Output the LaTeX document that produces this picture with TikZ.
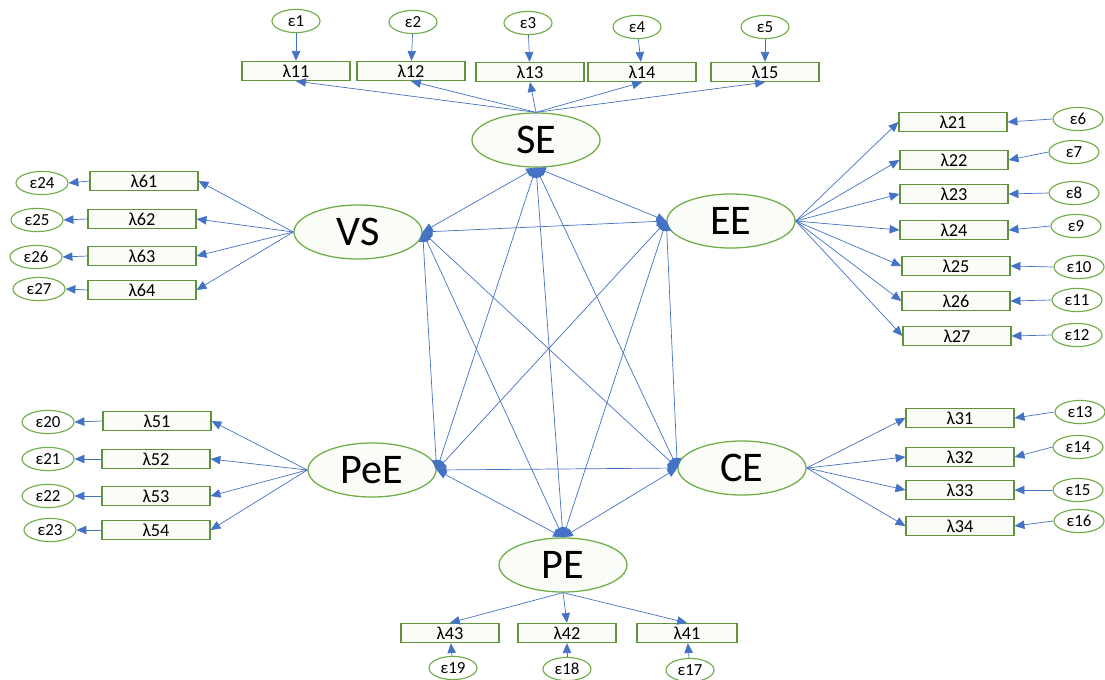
\documentclass[tikz,border=0pt]{standalone}
\usepackage{fontspec}
\setmainfont{Carlito}
\usetikzlibrary{positioning,shapes,arrows.meta}
\definecolor{semline}{HTML}{4472C4}
\definecolor{semgreen}{HTML}{70AD47}
\definecolor{semfill}{HTML}{FAFDF7}

\begin{document}
\begin{tikzpicture}[x=0.025cm,y=-0.025cm,
    latent/.style={ellipse, draw=semgreen, fill=semfill, line width=0.9pt, minimum width=3.2cm, minimum height=1.35cm, inner sep=0pt, font=\fontsize{30}{34}\selectfont},
    item/.style={rectangle, draw=semgreen!85!black, fill=semfill, line width=0.8pt, minimum width=2.7cm, minimum height=0.48cm, inner sep=0pt, font=\fontsize{13}{15}\selectfont},
    err/.style={ellipse, draw=semgreen, fill=white, line width=0.8pt, minimum width=1.2cm, minimum height=0.58cm, inner sep=0pt, font=\fontsize{12}{14}\selectfont},
    load/.style={-{Triangle[length=7pt,width=6pt]}, semline, line width=0.5pt},
    cov/.style={{Triangle[length=7pt,width=6pt]}-{Triangle[length=7pt,width=6pt]}, semline, line width=0.5pt}]
      \useasboundingbox (0,0) rectangle (1105,679);

      \node[latent] (SE) at (536,140) {SE};
      \node[latent] (VS) at (358,232) {VS};
      \node[latent] (EE) at (731,221) {EE};
      \node[latent] (PeE) at (372,470) {PeE};
      \node[latent] (CE) at (742,468) {CE};
      \node[latent] (PE) at (563,565) {PE};

      \node[item] (l11) at (296,71) {λ11};
      \node[item] (l12) at (411,71) {λ12};
      \node[item] (l13) at (530,72) {λ13};
      \node[item] (l14) at (642,72) {λ14};
      \node[item] (l15) at (765,72) {λ15};
      \node[err] (e1) at (296,21) {ε1};
      \node[err] (e2) at (413,22) {ε2};
      \node[err] (e3) at (528,23) {ε3};
      \node[err] (e4) at (637,27) {ε4};
      \node[err] (e5) at (765,27) {ε5};

      \node[item] (l21) at (953,122) {λ21};
      \node[item] (l22) at (954,160) {λ22};
      \node[item] (l23) at (954,194) {λ23};
      \node[item] (l24) at (954,230) {λ24};
      \node[item] (l25) at (956,266) {λ25};
      \node[item] (l26) at (956,301) {λ26};
      \node[item] (l27) at (957,336) {λ27};
      \node[err, minimum width=1.25cm] (e6) at (1078,119) {ε6};
      \node[err, minimum width=1.25cm] (e7) at (1074,152) {ε7};
      \node[err, minimum width=1.25cm] (e8) at (1074,193) {ε8};
      \node[err, minimum width=1.25cm] (e9) at (1076,226) {ε9};
      \node[err, minimum width=1.25cm] (e10) at (1079,267) {ε10};
      \node[err, minimum width=1.25cm] (e11) at (1077,300) {ε11};
      \node[err, minimum width=1.25cm] (e12) at (1077,335) {ε12};

      \node[item] (l31) at (960,418) {λ31};
      \node[item] (l32) at (960,457) {λ32};
      \node[item] (l33) at (960,490) {λ33};
      \node[item] (l34) at (960,526) {λ34};
      \node[err, minimum width=1.25cm] (e13) at (1080,412) {ε13};
      \node[err, minimum width=1.25cm] (e14) at (1078,447) {ε14};
      \node[err, minimum width=1.25cm] (e15) at (1078,490) {ε15};
      \node[err, minimum width=1.25cm] (e16) at (1079,521) {ε16};

      \node[item, minimum width=2.45cm] (l43) at (450,633) {λ43};
      \node[item, minimum width=2.45cm] (l42) at (567,633) {λ42};
      \node[item, minimum width=2.5cm] (l41) at (687,633) {λ41};
      \node[err] (e19) at (453,668) {ε19};
      \node[err] (e18) at (567,669) {ε18};
      \node[err] (e17) at (690,670) {ε17};

      \node[item] (l51) at (157,421) {λ51};
      \node[item] (l52) at (156,459) {λ52};
      \node[item] (l53) at (156,496) {λ53};
      \node[item] (l54) at (156,530) {λ54};
      \node[err, minimum width=1.3cm] (e20) at (48,422) {ε20};
      \node[err, minimum width=1.3cm] (e21) at (48,459) {ε21};
      \node[err, minimum width=1.3cm] (e22) at (48,496) {ε22};
      \node[err, minimum width=1.3cm] (e23) at (50,530) {ε23};

      \node[item] (l61) at (144,181) {λ61};
      \node[item] (l62) at (142,219) {λ62};
      \node[item] (l63) at (142,256) {λ63};
      \node[item] (l64) at (142,290) {λ64};
      \node[err, minimum width=1.3cm] (e24) at (42,183) {ε24};
      \node[err, minimum width=1.3cm] (e25) at (37,220) {ε25};
      \node[err, minimum width=1.3cm] (e26) at (36,257) {ε26};
      \node[err, minimum width=1.3cm] (e27) at (39,289) {ε27};

      \foreach \i in {11,12,13,14,15} \draw[load] (SE.north) -- (l\i.south);
      \foreach \i in {21,22,23,24,25,26,27} \draw[load] (EE.east) -- (l\i.west);
      \foreach \i in {31,32,33,34} \draw[load] (CE.east) -- (l\i.west);
      \foreach \i in {41,42,43} \draw[load] (PE.south) -- (l\i.north);
      \foreach \i in {51,52,53,54} \draw[load] (PeE.west) -- (l\i.east);
      \foreach \i in {61,62,63,64} \draw[load] (VS.west) -- (l\i.east);

      \foreach \e/\i in {1/11,2/12,3/13,4/14,5/15} \draw[load] (e\e) -- (l\i);
      \foreach \e/\i in {6/21,7/22,8/23,9/24,10/25,11/26,12/27,13/31,14/32,15/33,16/34} \draw[load] (e\e.west) -- (l\i.east);
      \foreach \e/\i in {17/41,18/42,19/43} \draw[load] (e\e) -- (l\i);
      \foreach \e/\i in {20/51,21/52,22/53,23/54,24/61,25/62,26/63,27/64} \draw[load] (l\i.west) -- (e\e.east);

      \draw[cov] (SE.south) -- (VS.east);
      \draw[cov] (SE.south) -- (EE.west);
      \draw[cov] (SE.south) -- (PeE.east);
      \draw[cov] (SE.south) -- (PE.north);
      \draw[cov] (SE.south) -- (CE.west);
      \draw[cov] (VS.east) -- (EE.west);
      \draw[cov] (VS.east) -- (PeE.east);
      \draw[cov] (VS.east) -- (PE.north);
      \draw[cov] (VS.east) -- (CE.west);
      \draw[cov] (EE.west) -- (PeE.east);
      \draw[cov] (EE.west) -- (PE.north);
      \draw[cov] (EE.west) -- (CE.west);
      \draw[cov] (PeE.east) -- (CE.west);
      \draw[cov] (PeE.east) -- (PE.north);
      \draw[cov] (CE.west) -- (PE.north);
    \end{tikzpicture}
\end{document}
